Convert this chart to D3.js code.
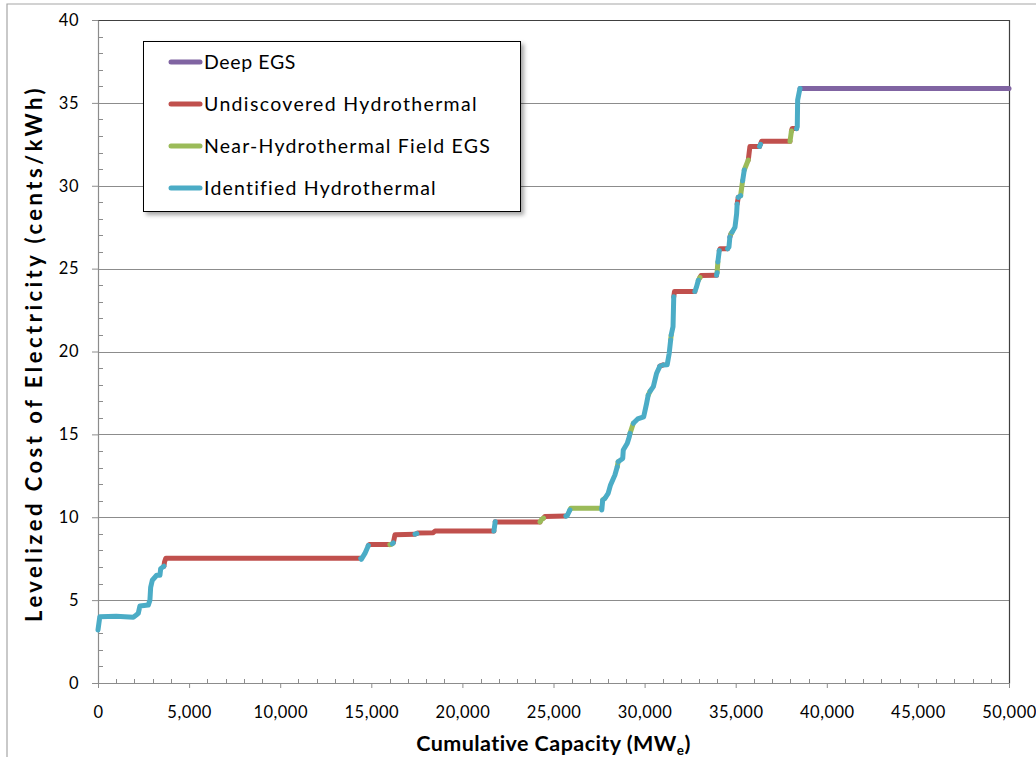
<!DOCTYPE html>
<html>
<head>
<meta charset="utf-8">
<script src="https://cdn.jsdelivr.net/npm/d3@7"></script>
<style>
  html, body { margin: 0; padding: 0; background: #fff; }
  svg { display: block; }
  text { font-family: Lato, "Open Sans", sans-serif; fill: #000; }
</style>
</head>
<body>
<script>
// ---------- data ----------
const yTicks = [0, 5, 10, 15, 20, 25, 30, 35, 40];
const xTicks = [0, 5000, 10000, 15000, 20000, 25000, 30000, 35000, 40000, 45000, 50000];
const legendNames = ["Deep EGS", "Undiscovered Hydrothermal", "Near-Hydrothermal Field EGS", "Identified Hydrothermal"];
const legendKeys = ["D", "U", "N", "I"];
const seriesColors = ["#8064A2", "#C0504D", "#9BBB59", "#4BACC6"];

// supply curve: cumulative capacity (MWe), cost (cents/kWh), resource type of segment ending at the point
const supplyMW = [
  0, 100, 1000, 1940, 2100, 2210, 2300, 2760, 2850, 2890, 2980, 3220, 3400, 3440, 3620,
  3650, 3720, 14420,
  14450, 14650, 14840,
  14900, 16020,
  16150, 16210,
  16300, 17400,
  17500,
  17550, 18400, 18500, 21730,
  21760, 21800,
  21850, 24260,
  24350, 24450,
  24530, 25680,
  25750, 25900,
  25950, 27640,
  27650, 27700,
  27820,
  28000, 28130, 28370, 28500,
  28550,
  28800, 28830, 29050, 29160, 29200,
  29380,
  29620, 29950, 30110, 30200,
  30300,
  30480, 30660, 30840,
  31020,
  31240, 31350, 31430,
  31460,
  31560, 31600,
  31640, 32760,
  32850, 32950,
  33040,
  33100, 33950,
  33980,
  34020,
  34100,
  34150, 34550,
  34630, 34680,
  34740,
  34800,
  34960, 35050, 35080,
  35140,
  35270,
  35380,
  35470,
  35690,
  35780, 36310,
  36360,
  36420, 37980,
  38060,
  38100, 38340,
  38380, 38400, 38490, 38530,
  39000, 50000
];
const supplyCost = [
  3.2, 4.0, 4.02, 3.97, 4.1, 4.2, 4.65, 4.7, 5.0, 5.77, 6.2, 6.5, 6.5, 6.9, 7.05,
  7.3, 7.52, 7.52,
  7.46, 7.82, 8.3,
  8.35, 8.35,
  8.4, 8.46,
  8.95, 8.98,
  9.02,
  9.05, 9.07, 9.17, 9.17,
  9.4, 9.73,
  9.72, 9.72,
  9.87, 9.95,
  10.05, 10.07,
  10.1, 10.44,
  10.54, 10.54,
  10.44, 11.04,
  11.14,
  11.44, 11.95, 12.55, 13.05,
  13.35,
  13.55, 14.06, 14.46, 14.86, 15.06,
  15.67,
  15.93, 16.06, 16.87, 17.37,
  17.6,
  17.88, 18.69, 19.12,
  19.19,
  19.2, 19.89, 20.69,
  21.0,
  21.5, 23.3,
  23.62, 23.62,
  23.9, 24.3,
  24.47,
  24.58, 24.6,
  24.75,
  25.4,
  26.1,
  26.2, 26.2,
  26.3, 26.9,
  27.1,
  27.2,
  27.5, 28.3, 28.9,
  29.3,
  29.4,
  30.3,
  30.95,
  31.55,
  32.37, 32.37,
  32.5,
  32.68, 32.68,
  33.3,
  33.45, 33.45,
  33.57, 35.17, 35.67, 35.87,
  35.87, 35.87
];
const supplyType = [
  "I", "I", "I", "I", "I", "I", "I", "I", "I", "I", "I", "I", "I", "I", "I",
  "U", "U", "U",
  "I", "I", "I",
  "U", "U",
  "N", "I",
  "U", "U",
  "I",
  "U", "U", "U", "U",
  "I", "I",
  "U", "U",
  "N", "N",
  "U", "U",
  "I", "I",
  "N", "N",
  "I", "I",
  "N",
  "I", "I", "I", "I",
  "N",
  "I", "I", "I", "I", "I",
  "N",
  "I", "I", "I", "I",
  "N",
  "I", "I", "I",
  "U",
  "I", "I", "I",
  "N",
  "I", "I",
  "U", "U",
  "I", "I",
  "N",
  "U", "U",
  "I",
  "N",
  "I",
  "U", "U",
  "I", "I",
  "D",
  "N",
  "I", "I", "I",
  "U",
  "I",
  "N",
  "I",
  "N",
  "U", "U",
  "I",
  "U", "U",
  "N",
  "U", "U",
  "I", "I", "I", "I",
  "D", "D"
];

// ---------- chart ----------
const W = 1036, H = 757;
const svg = d3.select("body").append("svg").attr("width", W).attr("height", H);

const x = d3.scaleLinear().domain([0, 50000]).range([98, 1009]);
const y = d3.scaleLinear().domain([0, 40]).range([683, 20]);

// stretch text to a measured width via letter-spacing
function fitWidth(sel, target) {
  const n = sel.node();
  const w = n.getComputedTextLength();
  const k = n.getNumberOfChars();
  sel.attr("letter-spacing", ((target - w) / k).toFixed(2));
}

// outer chart border (cropped at right/bottom)
svg.append("path").attr("d", `M7,${H + 2} V4 H${W + 2}`)
  .attr("fill", "none").attr("stroke", "#a6a6a6").attr("stroke-width", 1.2);

// gridlines
svg.append("g").selectAll("line").data(yTicks.filter(d => d > 0)).join("line")
  .attr("x1", x(0)).attr("x2", x(50000))
  .attr("y1", d => Math.round(y(d)) + 0.5).attr("y2", d => Math.round(y(d)) + 0.5)
  .attr("stroke", "#8c8c8c").attr("stroke-width", 1);

// plot area border (top & right)
svg.append("path")
  .attr("d", `M${x(0)},${Math.round(y(40)) + 0.5} H${Math.round(x(50000)) + 0.5} V${Math.round(y(0)) + 0.5}`)
  .attr("fill", "none").attr("stroke", "#404040").attr("stroke-width", 1.2);

// minor ticks
const yMinor = d3.range(0, 41, 1).filter(d => d % 5 !== 0);
svg.append("g").selectAll("line").data(yMinor).join("line")
  .attr("x1", x(0)).attr("x2", x(0) + 5)
  .attr("y1", d => Math.round(y(d)) + 0.5).attr("y2", d => Math.round(y(d)) + 0.5)
  .attr("stroke", "#8c8c8c");
const xMinor = d3.range(0, 50001, 1000).filter(d => d % 5000 !== 0);
svg.append("g").selectAll("line").data(xMinor).join("line")
  .attr("x1", d => Math.round(x(d)) + 0.5).attr("x2", d => Math.round(x(d)) + 0.5)
  .attr("y1", y(0) - 4).attr("y2", y(0))
  .attr("stroke", "#8c8c8c");

// axes
const yAxis = svg.append("g").attr("transform", `translate(${x(0)},0)`)
  .call(d3.axisLeft(y).tickValues(yTicks).tickSize(6).tickPadding(13).tickSizeOuter(0));
const xAxis = svg.append("g").attr("transform", `translate(0,${y(0)})`)
  .call(d3.axisBottom(x).tickValues(xTicks).tickSize(5).tickPadding(18).tickSizeOuter(0).tickFormat(d3.format(",")));
[yAxis, xAxis].forEach(a => {
  a.select(".domain").attr("stroke", "#8c8c8c").attr("stroke-width", 1.2);
  a.selectAll(".tick line").attr("stroke", "#8c8c8c");
  a.selectAll(".tick text").attr("font-family", "Lato, sans-serif").attr("font-size", 16.5)
    .attr("letter-spacing", 0.5).attr("fill", "#000");
});

// axis titles
const yt = svg.append("text")
  .attr("transform", `translate(42,${(y(0) + y(40)) / 2 + 2}) rotate(-90)`)
  .attr("text-anchor", "middle").attr("font-size", 22).attr("font-weight", "bold")
  .text("Levelized Cost of Electricity (cents/kWh)");
fitWidth(yt, 537);
const xt = svg.append("text")
  .attr("x", (x(0) + x(50000)) / 2).attr("y", 751)
  .attr("text-anchor", "middle").attr("font-size", 21.5).attr("font-weight", "bold");
xt.append("tspan").text("Cumulative Capacity (MW");
xt.append("tspan").attr("font-size", 13.5).attr("dy", 4).text("e");
xt.append("tspan").attr("dy", -4).text(")");
fitWidth(xt, 275);

// supply curve: build runs of the same resource type
const pts = supplyMW.map((m, i) => ({ m, c: supplyCost[i], t: supplyType[i] }));
const runs = [];
let cur = { t: pts[0].t, p: [pts[0]] };
for (let i = 1; i < pts.length; i++) {
  if (pts[i].t === cur.t) cur.p.push(pts[i]);
  else { runs.push(cur); cur = { t: pts[i].t, p: [pts[i - 1], pts[i]] }; }
}
runs.push(cur);

const line = d3.line().x(d => x(d.m)).y(d => y(d.c));
const order = ["D", "U", "N", "I"];
const colorOf = k => seriesColors[legendKeys.indexOf(k)];
const gSeries = svg.append("g");
order.forEach(k => {
  gSeries.selectAll(null).data(runs.filter(r => r.t === k)).join("path")
    .attr("d", r => line(r.p))
    .attr("fill", "none").attr("stroke", colorOf(k))
    .attr("stroke-width", 5).attr("stroke-linecap", "round").attr("stroke-linejoin", "round");
});

// legend
const defs = svg.append("defs");
const f = defs.append("filter").attr("id", "sh").attr("x", "-10%").attr("y", "-10%").attr("width", "130%").attr("height", "130%");
f.append("feDropShadow").attr("dx", 3).attr("dy", 3).attr("stdDeviation", 2).attr("flood-color", "#000").attr("flood-opacity", 0.35);
const lg = svg.append("g");
lg.append("rect").attr("x", 143.5).attr("y", 41.5).attr("width", 377).attr("height", 170)
  .attr("fill", "#fff").attr("stroke", "#000").attr("stroke-width", 1).attr("filter", "url(#sh)");
const rowY = [62, 104, 146, 188];
const legendWidths = [92, 274, 287, 233];
legendNames.forEach((name, i) => {
  lg.append("line").attr("x1", 171).attr("x2", 200).attr("y1", rowY[i]).attr("y2", rowY[i])
    .attr("stroke", seriesColors[i]).attr("stroke-width", 5).attr("stroke-linecap", "round");
  const t = lg.append("text").attr("x", 204).attr("y", rowY[i] + 6.5).attr("font-size", 19.5).text(name);
  fitWidth(t, legendWidths[i]);
});
</script>
</body>
</html>
